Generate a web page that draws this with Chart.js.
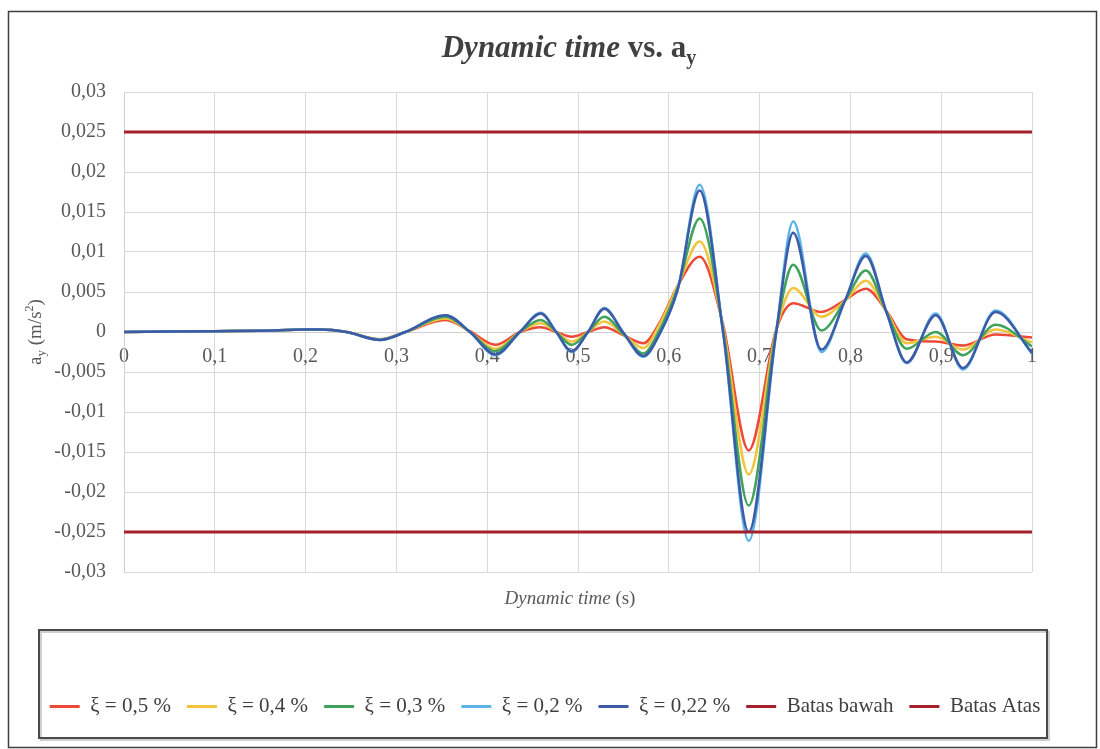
<!DOCTYPE html>
<html>
<head>
<meta charset="utf-8">
<script src="https://cdn.jsdelivr.net/npm/chart.js@4/dist/chart.umd.min.js"></script>
<style>
html,body{margin:0;padding:0;background:#fff}
#wrap{width:1100px;height:749px;position:relative}
</style>
</head>
<body>
<div id="wrap"><canvas id="chart"></canvas></div>
<script>

/* DATA */

const time=[0,0.1,0.15,0.2,0.215,0.245,0.282,0.31,0.354,0.381,0.409,0.436,0.459,0.476,0.493,0.511,0.529,0.55,0.572,0.59,0.61,0.634,0.66,0.688,0.718,0.737,0.768,0.794,0.817,0.84,0.862,0.894,0.924,0.96,1]

const xi05=[0,0.0001,0.00015,0.0003,0.0003,0,-0.0009,0,0.0015,0.0001,-0.0016,0,0.0006,0,-0.0006,0,0.0006,-0.0004,-0.0014,0.0012,0.0058,0.0094,0.0008,-0.0148,0.0002,0.0036,0.0025,0.004,0.0054,0.0026,-0.0009,-0.0012,-0.0017,-0.0003,-0.0007]
const xi04=[0,0.0001,0.00015,0.0003,0.0003,0,-0.00092,0,0.0017,0,-0.0021,0,0.0011,0,-0.0012,0,0.0013,-0.0003,-0.002,0.001,0.0058,0.0113,0.0005,-0.0178,0.0001,0.0055,0.0019,0.0039,0.0064,0.0025,-0.0014,-0.0006,-0.0022,0.0003,-0.0013]
const xi03=[0,0.0001,0.00015,0.0003,0.0003,0,-0.00095,0,0.0019,0,-0.0024,0,0.0015,0,-0.0016,0,0.0019,-0.0003,-0.0027,0.0003,0.0056,0.0142,0.0002,-0.0217,0,0.0084,0.0002,0.0039,0.0077,0.0024,-0.0021,0,-0.0029,0.0009,-0.0018]
const xi02=[0,0.0001,0.00015,0.0003,0.0003,0,-0.001,0,0.0021,0,-0.0029,0,0.0024,0,-0.0025,0,0.003,-0.0001,-0.0031,-0.0002,0.0054,0.0184,-0.0002,-0.0261,-0.0003,0.0138,-0.0025,0.0039,0.0098,0.0024,-0.0039,0.0023,-0.0047,0.0027,-0.0027]
const xi022=[0,0.0001,0.00015,0.0003,0.0003,0,-0.001,0,0.0021,0,-0.0028,0,0.0023,0,-0.0024,0,0.0029,-0.0001,-0.003,-0.0002,0.0054,0.0177,-0.0002,-0.025,-0.0003,0.0124,-0.0022,0.0039,0.0095,0.0024,-0.0038,0.0021,-0.0045,0.0025,-0.0026]

const limitTime=[0,1]
const batasBawah=[-0.025,-0.025]
const batasAtas=[0.025,0.025]

const seriesNames=["ξ = 0,5 %","ξ = 0,4 %","ξ = 0,3 %","ξ = 0,2 %","ξ = 0,22 %"]
const seriesColors=["#ec4936","#f2c43c","#3fa35c","#5ab4e8","#3d5aa6"]
const limitColor="#a3202c"

const serif='"Liberation Serif","Times New Roman",serif'


/* HELPERS */

function pts(xs,ys){
return xs.map((x,i)=>({x:x,y:ys[i]}))
}

function fmt(v,d){
const p=Math.pow(10,d)
return String(Math.round(v*p)/p).replace(".",",")
}

function drawRuns(ctx,runs,x,y,color){
ctx.save()
ctx.fillStyle=color
ctx.textBaseline="alphabetic"
let w=0
runs.forEach(r=>{ctx.font=r.font;w+=ctx.measureText(r.text).width})
let cx=x-w/2
runs.forEach(r=>{
ctx.font=r.font
ctx.fillText(r.text,cx,y+(r.dy||0))
cx+=ctx.measureText(r.text).width
})
ctx.restore()
}


/* DECOR: frames and rich titles */

const decor={
id:"decor",
beforeDraw(chart){
const ctx=chart.ctx
ctx.save()
ctx.fillStyle="#fff"
ctx.fillRect(0,0,chart.width,chart.height)
ctx.strokeStyle="#3f3f3f"
ctx.lineWidth=1.5
ctx.strokeRect(8.5,11.5,1088,736)
ctx.strokeStyle="#cfcfcf"
ctx.lineWidth=2
ctx.strokeRect(41,632,1008,108)
ctx.strokeStyle="#4a4a4a"
ctx.lineWidth=2
ctx.strokeRect(39,630,1008,108)
ctx.restore()
},
afterDraw(chart){
const ctx=chart.ctx

drawRuns(ctx,[
{text:"Dynamic time",font:"italic bold 31px "+serif},
{text:" vs. a",font:"bold 31px "+serif},
{text:"y",font:"bold 20px "+serif,dy:7}
],569,57,"#404040")

drawRuns(ctx,[
{text:"Dynamic time",font:"italic 19px "+serif},
{text:" (s)",font:"19px "+serif}
],570,604,"#595959")

ctx.save()
ctx.translate(35,332)
ctx.rotate(-Math.PI/2)
drawRuns(ctx,[
{text:"a",font:"19px "+serif},
{text:"y",font:"13px "+serif,dy:4},
{text:" (m/s",font:"19px "+serif},
{text:"2",font:"12px "+serif,dy:-8},
{text:")",font:"19px "+serif}
],0,6,"#595959")
ctx.restore()
}
}


/* CHART */

const datasets=[xi05,xi04,xi03,xi02,xi022].map((c,i)=>({
label:seriesNames[i],
data:pts(time,c),
xAxisID:"x",
yAxisID:"y",
borderColor:seriesColors[i],
backgroundColor:seriesColors[i],
borderWidth:2.5,
pointRadius:0,
cubicInterpolationMode:"monotone",
order:7-i
}))

datasets.push({label:"Batas bawah",data:pts(limitTime,batasBawah),xAxisID:"x",yAxisID:"y",borderColor:limitColor,backgroundColor:limitColor,borderWidth:3,pointRadius:0,order:2})
datasets.push({label:"Batas Atas",data:pts(limitTime,batasAtas),xAxisID:"x",yAxisID:"y",borderColor:limitColor,backgroundColor:limitColor,borderWidth:3,pointRadius:0,order:1})

Chart.defaults.font.family=serif

new Chart(document.getElementById("chart"),{
type:"line",
data:{datasets:datasets},
options:{
responsive:true,
maintainAspectRatio:false,
animation:false,
layout:{padding:{left:20,right:30,top:92,bottom:22}},
scales:{
x:{
type:"linear",
min:0,
max:1,
position:{y:0},
ticks:{stepSize:0.1,autoSkip:false,maxRotation:0,padding:13,color:"#595959",font:{size:20},callback:v=>fmt(v,1)},
grid:{color:"#d9d9d9",drawTicks:false},
border:{color:"#d0d0d0"}
},
x2:{
type:"linear",
position:"bottom",
grid:{display:false},
ticks:{display:false},
border:{display:false},
afterFit:s=>{s.height=108}
},
y:{
type:"linear",
position:"left",
min:-0.03,
max:0.03,
ticks:{stepSize:0.005,padding:18,color:"#595959",font:{size:20},callback:v=>fmt(v,3)},
grid:{color:"#d9d9d9",drawTicks:false},
border:{color:"#d0d0d0"},
afterFit:s=>{s.width=104}
},
y2:{
type:"linear",
position:"right",
grid:{display:false},
ticks:{display:false},
border:{display:false},
afterFit:s=>{s.width=38}
}
},
plugins:{
title:{display:false},
tooltip:{enabled:false},
legend:{
position:"bottom",
labels:{
boxWidth:30,
boxHeight:3,
padding:16,
color:"#404040",
font:{size:21},
sort:(a,b)=>a.datasetIndex-b.datasetIndex,
generateLabels:chart=>Chart.defaults.plugins.legend.labels.generateLabels(chart).map(l=>Object.assign(l,{lineWidth:0}))
}
}
}
},
plugins:[decor]
})

</script>
</body>
</html>
